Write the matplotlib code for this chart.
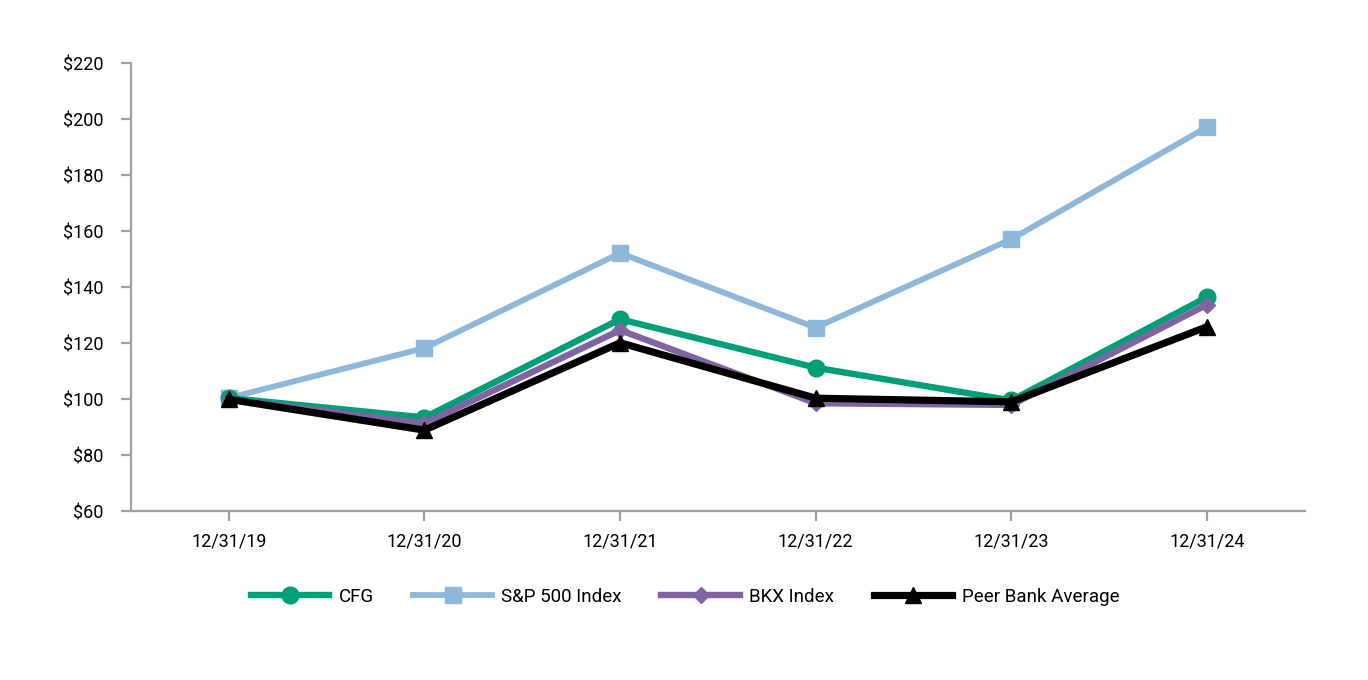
import matplotlib
matplotlib.use("Agg")
import matplotlib.pyplot as plt

plt.rcParams['font.family'] = ['Roboto', 'DejaVu Sans']

dates = ['12/31/19', '12/31/20', '12/31/21', '12/31/22', '12/31/23', '12/31/24']
cfg = [100.5, 93.5, 128.6, 111.3, 99.6, 136.5]
sp500 = [100.5, 118.3, 152.2, 125.6, 157.2, 197.2]
bkx = [100.0, 91.4, 124.7, 98.6, 98.0, 133.8]
peer = [100.0, 89.0, 120.2, 100.4, 99.1, 125.9]
yticks = [60, 80, 100, 120, 140, 160, 180, 200, 220]

GRAY = '#a0a0a0'


def main():
    fig = plt.figure(figsize=(13.68, 6.8), dpi=100)
    ax = fig.add_axes([0.0958, 0.248, 0.858, 0.659])
    x = range(len(dates))

    ax.plot(x, sp500, color='#8db8da', lw=4.2, marker='s', ms=11,
            label='S&P 500 Index', zorder=2)
    ax.plot(x, cfg, color='#009f77', lw=4.6, marker='o', ms=12,
            label='CFG', zorder=3)
    ax.plot(x, bkx, color='#8064a2', lw=4.6, marker='D', ms=8,
            label='BKX Index', zorder=4)
    ax.plot(x, peer, color='black', lw=5.2, marker='^', ms=12,
            label='Peer Bank Average', zorder=5)

    ax.set_xlim(-0.5, 5.5)
    ax.set_ylim(60, 220)
    ax.set_xticks(list(x))
    ax.set_xticklabels(dates)
    ax.set_yticks(yticks)
    ax.set_yticklabels(['${}'.format(v) for v in yticks])

    for side in ('top', 'right'):
        ax.spines[side].set_visible(False)
    for side in ('left', 'bottom'):
        ax.spines[side].set_color(GRAY)
        ax.spines[side].set_linewidth(1.6)
    ax.tick_params(axis='both', colors=GRAY, width=1.6, length=7,
                   labelcolor='black', labelsize=13)
    ax.tick_params(axis='y', pad=13)
    ax.tick_params(axis='x', pad=8)

    # legend sits a little left of the axes centre in the original
    handles, labels = ax.get_legend_handles_labels()
    order = [1, 0, 2, 3]
    ax.legend([handles[i] for i in order], [labels[i] for i in order],
              loc='center', bbox_to_anchor=(0.472, -0.19), ncol=4,
              frameon=False, fontsize=13.5, handlelength=4.2,
              handletextpad=0.5, columnspacing=2.1)

    fig.savefig('out.png', dpi=100)


if __name__ == '__main__':
    main()
